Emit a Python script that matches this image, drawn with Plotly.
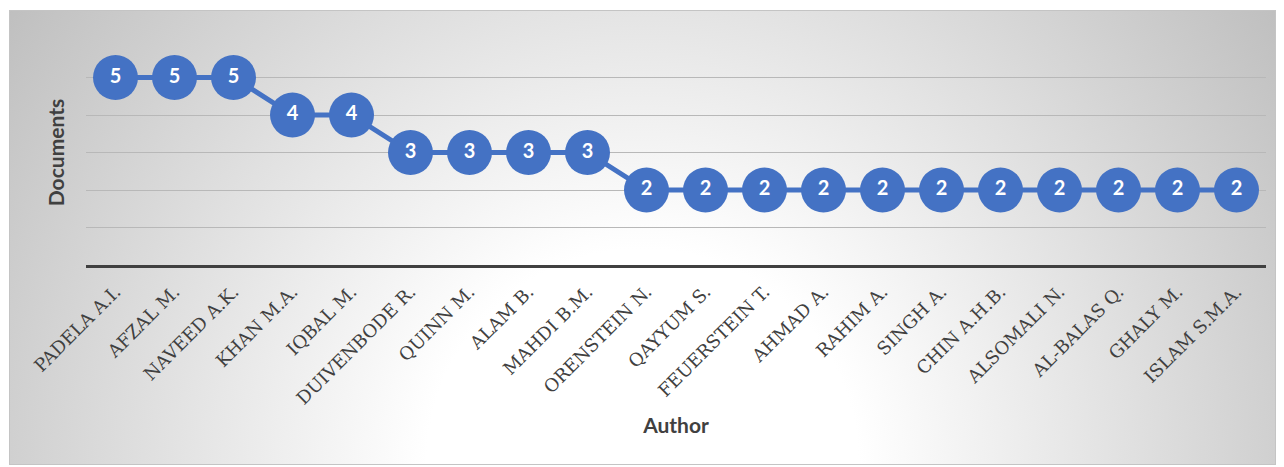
import base64
import plotly.graph_objects as go

authors = ["PADELA A.I.", "AFZAL M.", "NAVEED A.K.", "KHAN M.A.", "IQBAL M.",
           "DUIVENBODE R.", "QUINN M.", "ALAM B.", "MAHDI B.M.", "ORENSTEIN N.",
           "QAYYUM S.", "FEUERSTEIN T.", "AHMAD A.", "RAHIM A.", "SINGH A.",
           "CHIN A.H.B.", "ALSOMALI N.", "AL-BALAS Q.", "GHALY M.", "ISLAM S.M.A."]
documents = [5, 5, 5, 4, 4, 3, 3, 3, 3, 2, 2, 2, 2, 2, 2, 2, 2, 2, 2, 2]

W, H = 1284, 467
L, R, T, B = 86, 18, 40, 202
pw, ph = W - L - R, H - T - B

# frame with radial gradient background
fx0, fx1, fy0, fy1 = 9, 1276, 10, 465
fw, fh = fx1 - fx0, fy1 - fy0
svg = f"""<svg xmlns='http://www.w3.org/2000/svg' width='{fw}' height='{fh}' viewBox='0 0 {fw} {fh}' preserveAspectRatio='none'>
<defs><radialGradient id='g' gradientUnits='userSpaceOnUse' cx='{fw*0.5}' cy='{fh}' r='800'>
<stop offset='0' stop-color='#ffffff'/><stop offset='0.27' stop-color='#ffffff'/><stop offset='1' stop-color='#bdbdbd'/>
</radialGradient></defs>
<rect x='0.5' y='0.5' width='{fw-1}' height='{fh-1}' fill='url(#g)' stroke='#c4c4c4' stroke-width='1'/>
</svg>"""
src = "data:image/svg+xml;base64," + base64.b64encode(svg.encode()).decode()

fig = go.Figure()
fig.add_trace(go.Scatter(
    x=authors, y=documents, mode="lines+markers+text",
    line=dict(color="#4472C4", width=5),
    marker=dict(color="#4472C4", size=45, line=dict(width=0)),
    text=[str(v) for v in documents], textposition="middle center",
    textfont=dict(family="Lato", size=20, color="white", weight="bold"),
    cliponaxis=False, hoverinfo="x+y",
))

fig.update_layout(
    width=W, height=H,
    margin=dict(l=L, r=R, t=T, b=B, autoexpand=False),
    paper_bgcolor="white", plot_bgcolor="rgba(0,0,0,0)",
    showlegend=False,
    images=[dict(source=src, xref="paper", yref="paper",
                 x=(fx0 - L) / pw, y=(H - B - fy0) / ph,
                 sizex=fw / pw, sizey=fh / ph,
                 xanchor="left", yanchor="top", sizing="stretch", layer="below")],
    xaxis=dict(
        range=[-0.5, len(authors) - 0.5],
        showgrid=False, showline=True, linecolor="#404040", linewidth=3,
        ticks="", tickangle=-45, ticklabelstandoff=6,
        tickfont=dict(family="DejaVu Serif", size=18, color="#404040"),
        title=dict(text="Author", standoff=11,
                   font=dict(family="Lato", size=21, color="#404040", weight="bold")),
        automargin=False,
    ),
    yaxis=dict(
        range=[0, 6], dtick=1, showticklabels=False, ticks="",
        showgrid=True, gridcolor="#b8b8b8", gridwidth=1, zeroline=False,
        title=dict(text="Documents", standoff=14,
                   font=dict(family="Lato", size=21, color="#404040", weight="bold")),
        automargin=False,
    ),
)

fig.write_html("out.html")
